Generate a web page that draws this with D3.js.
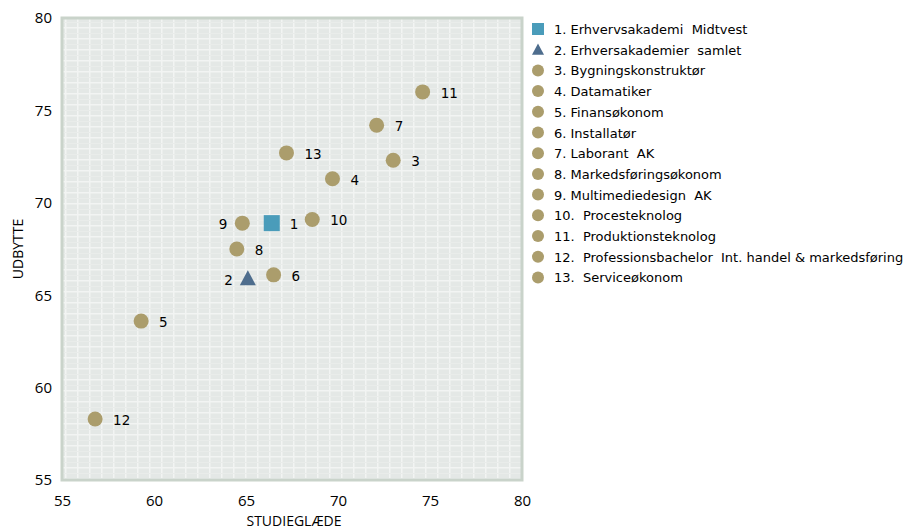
<!DOCTYPE html>
<html>
<head>
<meta charset="utf-8">
<script src="https://cdn.jsdelivr.net/npm/d3@7"></script>
<style>
  body { margin: 0; background: #fff; }
  text { white-space: pre; }
</style>
</head>
<body>
<div id="chart"></div>
<script>
const names = [
  "1. Erhvervsakademi  Midtvest",
  "2. Erhversakademier  samlet",
  "3. Bygningskonstruktør",
  "4. Datamatiker",
  "5. Finansøkonom",
  "6. Installatør",
  "7. Laborant  AK",
  "8. Markedsføringsøkonom",
  "9. Multimediedesign  AK",
  "10.  Procesteknolog",
  "11.  Produktionsteknolog",
  "12.  Professionsbachelor  Int. handel & markedsføring",
  "13.  Serviceøkonom"
];
const pointLabels = ["1", "2", "3", "4", "5", "6", "7", "8", "9", "10", "11", "12", "13"];
const studieglaede = [66.4, 65.1, 73.0, 69.7, 59.3, 66.5, 72.1, 64.5, 64.8, 68.6, 74.6, 56.8, 67.2];
const udbytte = [68.9, 65.9, 72.3, 71.3, 63.6, 66.1, 74.2, 67.5, 68.9, 69.1, 76.0, 58.3, 72.7];
const markerType = ["square", "triangle", "circle", "circle", "circle", "circle", "circle", "circle", "circle", "circle", "circle", "circle", "circle"];
const labelSide = ["right", "left", "right", "right", "right", "right", "right", "right", "left", "right", "right", "right", "right"];
const xTicks = [55, 60, 65, 70, 75, 80];
const yTicks = [55, 60, 65, 70, 75, 80];

const width = 908, height = 531;
const plot = { left: 62, right: 522, top: 18, bottom: 480 };
const colors = { square: "#4a9cba", triangle: "#4e6d8d", circle: "#ab9d6c" };
const axisFont = "'Open Sans', sans-serif";

const svg = d3.select("#chart").append("svg")
  .attr("width", width)
  .attr("height", height);

const x = d3.scaleLinear().domain([55, 80]).range([plot.left, plot.right]);
const y = d3.scaleLinear().domain([55, 80]).range([plot.bottom, plot.top]);

// plot background texture
const defs = svg.append("defs");
const pat = defs.append("pattern")
  .attr("id", "tex")
  .attr("patternUnits", "userSpaceOnUse")
  .attr("width", 12).attr("height", 11);
pat.append("rect").attr("width", 12).attr("height", 11).attr("fill", "#e4e8e6");
pat.append("rect").attr("x", 0).attr("y", 5).attr("width", 12).attr("height", 1.5).attr("fill", "#f2f4f3");
pat.append("rect").attr("x", 5).attr("y", 0).attr("width", 1.5).attr("height", 11).attr("fill", "#f2f4f3");
pat.append("rect").attr("x", 0).attr("y", 0).attr("width", 12).attr("height", 1).attr("fill", "#e9ecea");

svg.append("rect")
  .attr("x", plot.left)
  .attr("y", plot.top)
  .attr("width", plot.right - plot.left)
  .attr("height", plot.bottom - plot.top)
  .attr("fill", "url(#tex)")
  .attr("stroke", "#c9d3ca")
  .attr("stroke-width", 3);

// axes
const xAxis = svg.append("g")
  .attr("transform", `translate(0,${plot.bottom})`)
  .call(d3.axisBottom(x).tickValues(xTicks).tickSize(0).tickPadding(15));
const yAxis = svg.append("g")
  .attr("transform", `translate(${plot.left},0)`)
  .call(d3.axisLeft(y).tickValues(yTicks).tickSize(0).tickPadding(10));
[xAxis, yAxis].forEach(g => {
  g.select(".domain").remove();
  g.attr("font-family", axisFont).attr("font-size", 15);
  g.selectAll("text").attr("fill", "#000");
});

svg.append("text")
  .attr("x", (plot.left + plot.right) / 2 + 2)
  .attr("y", 526)
  .attr("text-anchor", "middle")
  .attr("font-family", axisFont)
  .attr("font-size", 14)
  .text("STUDIEGLÆDE");

svg.append("text")
  .attr("transform", `translate(23,${(plot.top + plot.bottom) / 2}) rotate(-90)`)
  .attr("text-anchor", "middle")
  .attr("font-family", axisFont)
  .attr("font-size", 14)
  .text("UDBYTTE");

// markers
function drawMarker(g, type, cx, cy, s) {
  if (type === "square") {
    g.append("rect").attr("x", cx - s).attr("y", cy - s)
      .attr("width", 2 * s).attr("height", 2 * s).attr("fill", colors.square);
  } else if (type === "triangle") {
    g.append("path")
      .attr("d", `M${cx},${cy - s * 1.05}L${cx + s},${cy + s * 0.85}L${cx - s},${cy + s * 0.85}Z`)
      .attr("fill", colors.triangle);
  } else {
    g.append("circle").attr("cx", cx).attr("cy", cy).attr("r", s).attr("fill", colors.circle);
  }
}

const pts = svg.append("g");
names.forEach((n, i) => {
  const cx = x(studieglaede[i]), cy = y(udbytte[i]);
  drawMarker(pts, markerType[i], cx, cy, markerType[i] === "circle" ? 7.5 : 8);
  const right = labelSide[i] === "right";
  pts.append("text")
    .attr("x", right ? cx + 18 : cx - 15)
    .attr("y", cy + 6)
    .attr("text-anchor", right ? "start" : "end")
    .attr("font-family", "'DejaVu Sans', sans-serif")
    .attr("font-size", 13.5)
    .text(pointLabels[i]);
});

// legend
const legend = svg.append("g").attr("transform", "translate(538,29)");
names.forEach((n, i) => {
  const row = legend.append("g").attr("transform", `translate(0,${i * 20.7})`);
  drawMarker(row, markerType[i], 0, 0, 6);
  row.append("text")
    .attr("x", 16)
    .attr("y", 5)
    .attr("font-family", "'DejaVu Sans', sans-serif")
    .attr("font-size", 13)
    .text(n);
});
</script>
</body>
</html>
